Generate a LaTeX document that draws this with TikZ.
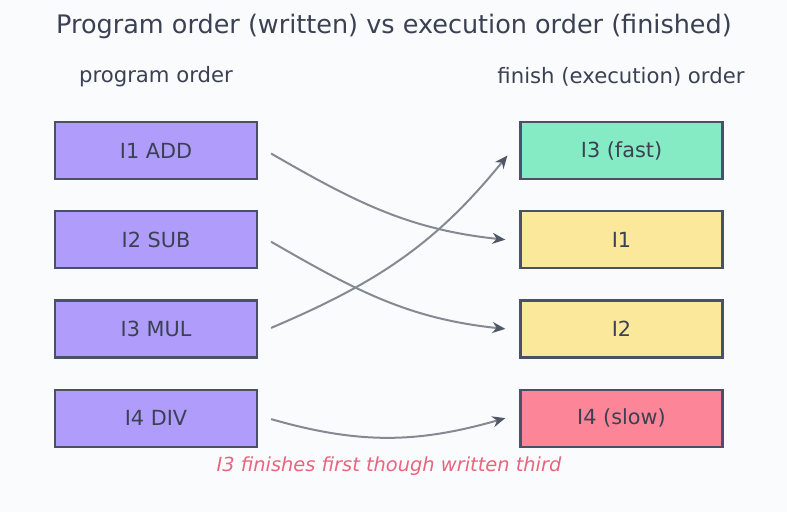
\documentclass[tikz,border=0pt]{standalone}
\usepackage{fontspec}
\setmainfont{DejaVu Sans}
\usepackage{tikz}
\usetikzlibrary{positioning,arrows.meta}
\definecolor{figbg}{HTML}{FAFBFD}
\definecolor{figtext}{HTML}{3A4152}
\definecolor{figedge}{HTML}{4A5068}
\definecolor{figline}{HTML}{858A92}
\definecolor{fighead}{HTML}{505866}
\definecolor{progfill}{HTML}{B09CFB}
\definecolor{fastfill}{HTML}{84EBC4}
\definecolor{midfill}{HTML}{FCE89A}
\definecolor{slowfill}{HTML}{FD8598}
\definecolor{notetext}{HTML}{E8657E}
\tikzset{
  instbox/.style={draw=figedge, line width=2.2pt, minimum width=202pt, minimum height=57pt,
    inner sep=0pt, text=figtext, font=\fontsize{20.8}{24}\selectfont},
  progbox/.style={instbox, fill=progfill},
  headlabel/.style={text=figtext, font=\fontsize{21.2}{24}\selectfont},
  orderarrow/.style={draw=figline, line width=2pt,
    -{Stealth[length=13pt, width=11pt, color=fighead]}},
}

\begin{document}
\begin{tikzpicture}[x=1pt, y=1pt]
  \fill[figbg] (0,0) rectangle (787,-512);
  \useasboundingbox (0,0) rectangle (787,-512);

  \node[text=figtext, font=\fontsize{25.5}{30}\selectfont] (title) at (394,-26.5)
    {Program order (written) vs execution order (finished)};
  \node[headlabel] (lefthead) at (156,-76.5) {program order};
  \node[headlabel] (righthead) at (621,-76.5) {finish (execution) order};

  % program order
  \node[progbox] (i1) at (156,-150.5) {I1 ADD};
  \node[progbox, below=30pt of i1] (i2) {I2 SUB};
  \node[progbox, below=30pt of i2] (i3) {I3 MUL};
  \node[progbox, below=30pt of i3] (i4) {I4 DIV};

  % finish order
  \node[instbox, fill=fastfill] (f3) at (621.5,-150.5) {I3 (fast)};
  \node[instbox, fill=midfill, below=30pt of f3] (f1) {I1};
  \node[instbox, fill=midfill, below=30pt of f1] (f2) {I2};
  \node[instbox, fill=slowfill, below=30pt of f2] (f4) {I4 (slow)};

  \draw[orderarrow] ([xshift=13pt, yshift=-3pt]i1.east) to[out=-30, in=174] ([xshift=-14pt]f1.west);
  \draw[orderarrow] ([xshift=13pt, yshift=-2pt]i2.east) to[out=-30, in=174] ([xshift=-14pt]f2.west);
  \draw[orderarrow] ([xshift=13pt, yshift=1pt]i3.east) to[out=23, in=-129] ([xshift=-12pt, yshift=-5pt]f3.west);
  \draw[orderarrow] ([xshift=13pt, yshift=-1pt]i4.east) to[out=-16, in=-164] ([xshift=-14pt]f4.west);

  \node[text=notetext, font=\fontsize{19.4}{23}\selectfont\itshape] (note) at (389,-466)
    {I3 finishes first though written third};
\end{tikzpicture}
\end{document}
